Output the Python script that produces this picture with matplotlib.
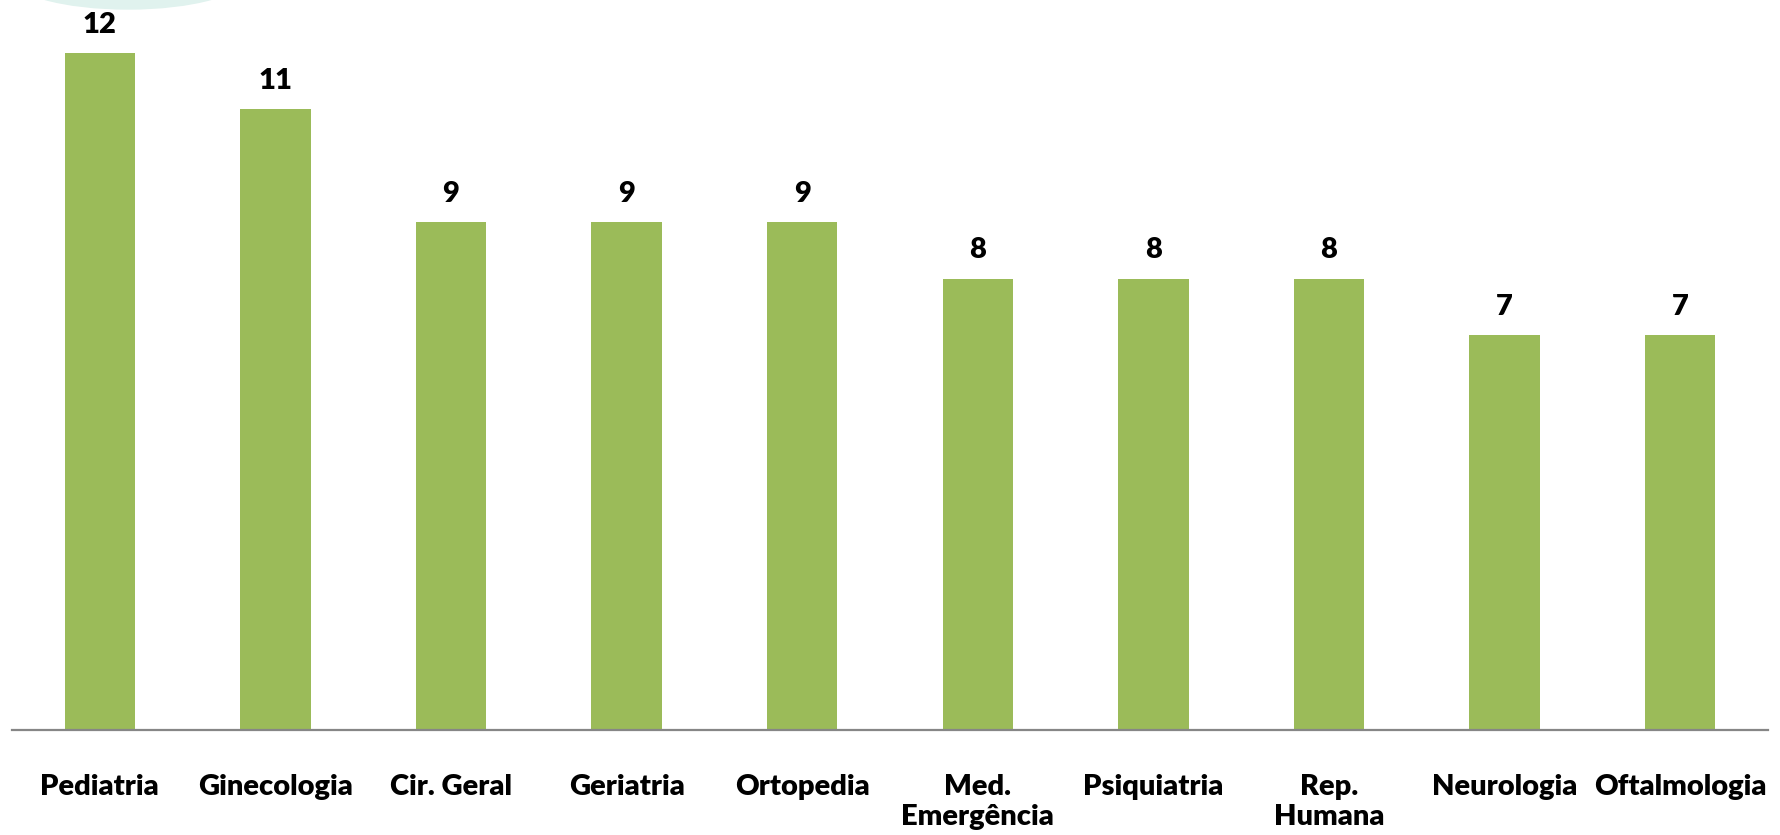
import matplotlib.pyplot as plt
from matplotlib.patches import Ellipse

# data
categories = ['Pediatria', 'Ginecologia', 'Cir. Geral', 'Geriatria', 'Ortopedia',
              'Med.\nEmergência', 'Psiquiatria', 'Rep.\nHumana', 'Neurologia', 'Oftalmologia']
values = [12, 11, 9, 9, 9, 8, 8, 8, 7, 7]

plt.rcParams['font.family'] = ['Lato', 'DejaVu Sans']

fig = plt.figure(figsize=(17.8, 8.35), dpi=100)
ax = fig.add_axes([12 / 1780, 105 / 835, 1756 / 1780, 730 / 835])
ax.patch.set_visible(False)

x = range(len(categories))
bars = ax.bar(x, values, width=0.4, color='#9BBB59')

for b, v in zip(bars, values):
    ax.annotate(str(v), (b.get_x() + b.get_width() / 2, v), xytext=(0, 11),
                textcoords='offset points', ha='center', va='bottom',
                fontsize=21, fontweight='heavy', color='black')

ax.set_xlim(-0.5, len(categories) - 0.5)
ax.set_ylim(0, 12.94)
ax.set_xticks(list(x))
ax.set_xticklabels(categories, fontsize=21, fontweight='heavy', linespacing=1.15)
ax.tick_params(axis='x', length=0, pad=32)
ax.set_yticks([])

for s in ['top', 'right', 'left']:
    ax.spines[s].set_visible(False)
ax.spines['bottom'].set_color('#868686')
ax.spines['bottom'].set_linewidth(1.6)

# faint slide decoration in the top-left corner
deco = Ellipse((128 / 1780, 1 + 24 / 835), 236 / 1780, 66 / 835,
               transform=fig.transFigure, color='#e0f2ee', zorder=-1)
fig.patches.append(deco)

plt.savefig('out.png', dpi=100)
